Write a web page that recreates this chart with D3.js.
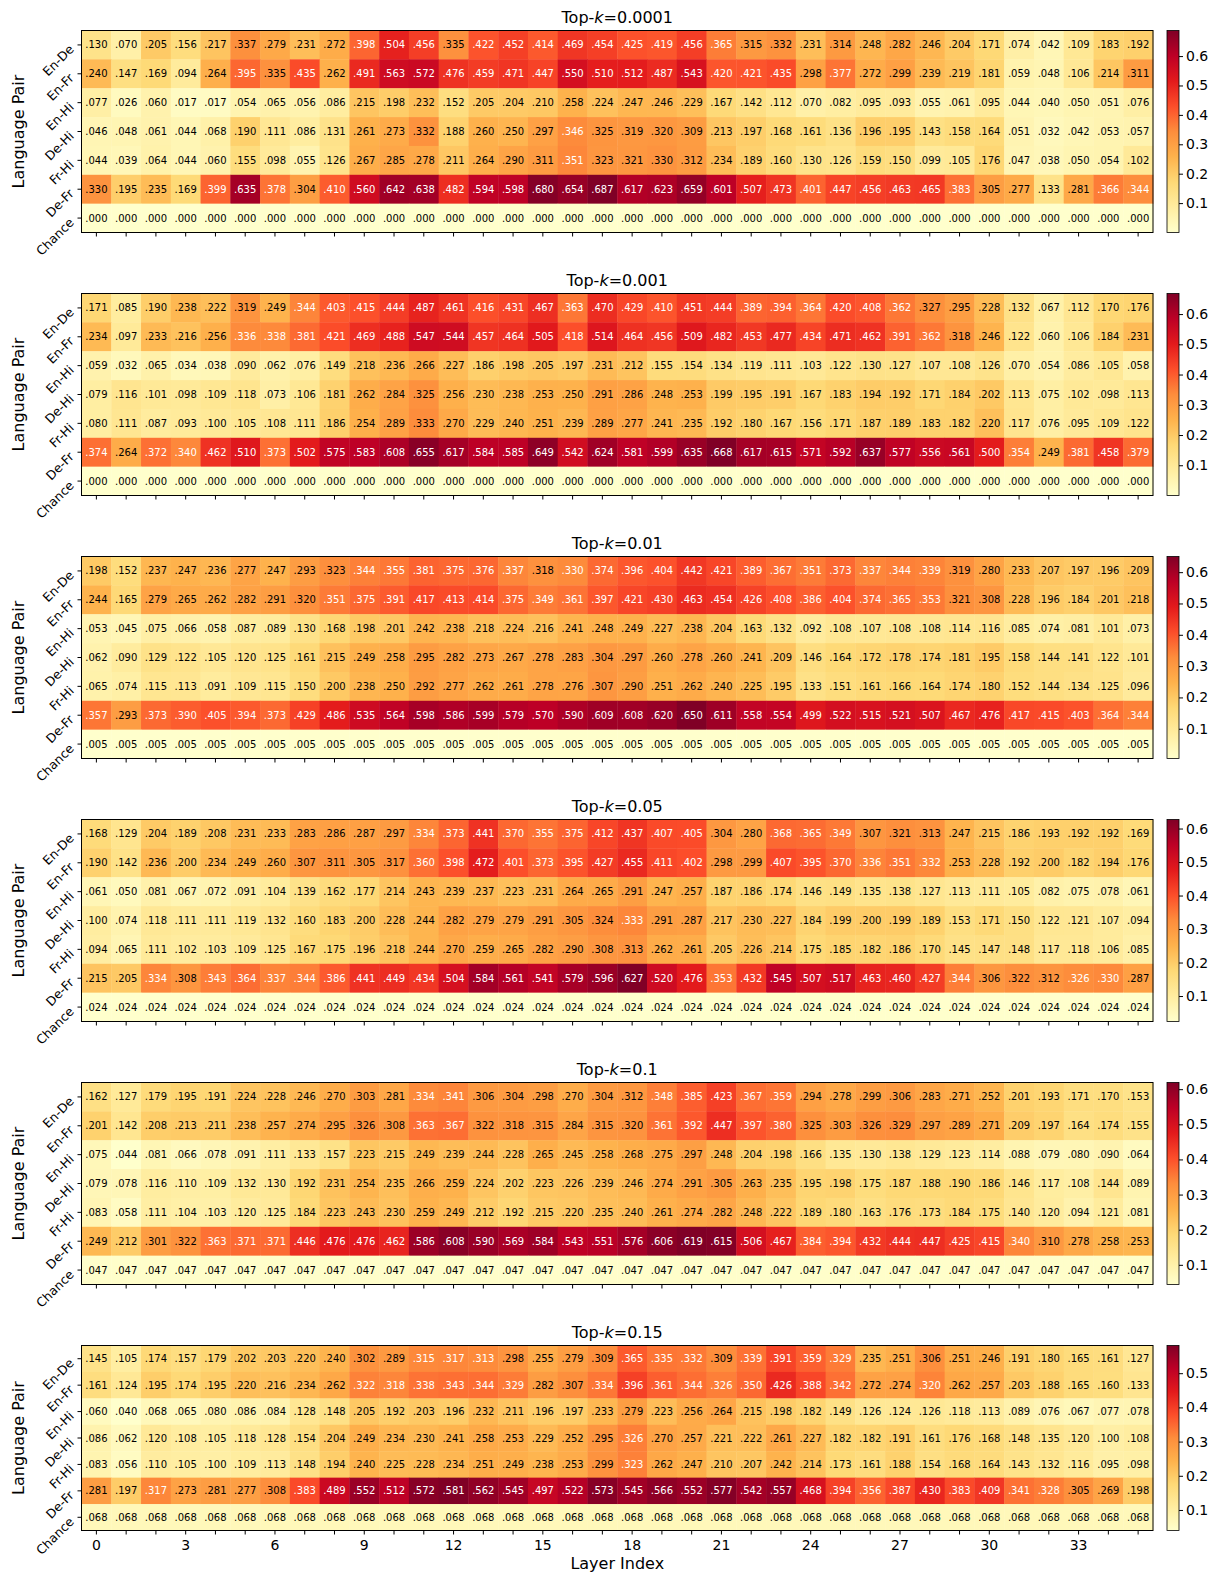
<!DOCTYPE html>
<html><head><meta charset="utf-8">
<script src="https://cdn.jsdelivr.net/npm/d3@7"></script>
<style>body{margin:0;background:#fff} svg{display:block} text{font-family:"DejaVu Sans",sans-serif}</style>
</head><body><svg id="chart" width="1217" height="1573"></svg>
<script>
// ---------- DATA ----------
const layers = [0,1,2,3,4,5,6,7,8,9,10,11,12,13,14,15,16,17,18,19,20,21,22,23,24,25,26,27,28,29,30,31,32,33,34,35];
const xTickLabels = [0,3,6,9,12,15,18,21,24,27,30,33];
const languagePairs = ["En-De","En-Fr","En-Hi","De-Hi","Fr-Hi","De-Fr","Chance"];
const topKValues = ["0.0001","0.001","0.01","0.05","0.1","0.15"];
const colorbarTicks = [0.1,0.2,0.3,0.4,0.5,0.6];

const valsK00001 = [
[0.130,0.070,0.205,0.156,0.217,0.337,0.279,0.231,0.272,0.398,0.504,0.456,0.335,0.422,0.452,0.414,0.469,0.454,0.425,0.419,0.456,0.365,0.315,0.332,0.231,0.314,0.248,0.282,0.246,0.204,0.171,0.074,0.042,0.109,0.183,0.192],
[0.240,0.147,0.169,0.094,0.264,0.395,0.335,0.435,0.262,0.491,0.563,0.572,0.476,0.459,0.471,0.447,0.550,0.510,0.512,0.487,0.543,0.420,0.421,0.435,0.298,0.377,0.272,0.299,0.239,0.219,0.181,0.059,0.048,0.106,0.214,0.311],
[0.077,0.026,0.060,0.017,0.017,0.054,0.065,0.056,0.086,0.215,0.198,0.232,0.152,0.205,0.204,0.210,0.258,0.224,0.247,0.246,0.229,0.167,0.142,0.112,0.070,0.082,0.095,0.093,0.055,0.061,0.095,0.044,0.040,0.050,0.051,0.076],
[0.046,0.048,0.061,0.044,0.068,0.190,0.111,0.086,0.131,0.261,0.273,0.332,0.188,0.260,0.250,0.297,0.346,0.325,0.319,0.320,0.309,0.213,0.197,0.168,0.161,0.136,0.196,0.195,0.143,0.158,0.164,0.051,0.032,0.042,0.053,0.057],
[0.044,0.039,0.064,0.044,0.060,0.155,0.098,0.055,0.126,0.267,0.285,0.278,0.211,0.264,0.290,0.311,0.351,0.323,0.321,0.330,0.312,0.234,0.189,0.160,0.130,0.126,0.159,0.150,0.099,0.105,0.176,0.047,0.038,0.050,0.054,0.102],
[0.330,0.195,0.235,0.169,0.399,0.635,0.378,0.304,0.410,0.560,0.642,0.638,0.482,0.594,0.598,0.680,0.654,0.687,0.617,0.623,0.659,0.601,0.507,0.473,0.401,0.447,0.456,0.463,0.465,0.383,0.305,0.277,0.133,0.281,0.366,0.344],
[0.000,0.000,0.000,0.000,0.000,0.000,0.000,0.000,0.000,0.000,0.000,0.000,0.000,0.000,0.000,0.000,0.000,0.000,0.000,0.000,0.000,0.000,0.000,0.000,0.000,0.000,0.000,0.000,0.000,0.000,0.000,0.000,0.000,0.000,0.000,0.000]
];
const valsK0001 = [
[0.171,0.085,0.190,0.238,0.222,0.319,0.249,0.344,0.403,0.415,0.444,0.487,0.461,0.416,0.431,0.467,0.363,0.470,0.429,0.410,0.451,0.444,0.389,0.394,0.364,0.420,0.408,0.362,0.327,0.295,0.228,0.132,0.067,0.112,0.170,0.176],
[0.234,0.097,0.233,0.216,0.256,0.336,0.338,0.381,0.421,0.469,0.488,0.547,0.544,0.457,0.464,0.505,0.418,0.514,0.464,0.456,0.509,0.482,0.453,0.477,0.434,0.471,0.462,0.391,0.362,0.318,0.246,0.122,0.060,0.106,0.184,0.231],
[0.059,0.032,0.065,0.034,0.038,0.090,0.062,0.076,0.149,0.218,0.236,0.266,0.227,0.186,0.198,0.205,0.197,0.231,0.212,0.155,0.154,0.134,0.119,0.111,0.103,0.122,0.130,0.127,0.107,0.108,0.126,0.070,0.054,0.086,0.105,0.058],
[0.079,0.116,0.101,0.098,0.109,0.118,0.073,0.106,0.181,0.262,0.284,0.325,0.256,0.230,0.238,0.253,0.250,0.291,0.286,0.248,0.253,0.199,0.195,0.191,0.167,0.183,0.194,0.192,0.171,0.184,0.202,0.113,0.075,0.102,0.098,0.113],
[0.080,0.111,0.087,0.093,0.100,0.105,0.108,0.111,0.186,0.254,0.289,0.333,0.270,0.229,0.240,0.251,0.239,0.289,0.277,0.241,0.235,0.192,0.180,0.167,0.156,0.171,0.187,0.189,0.183,0.182,0.220,0.117,0.076,0.095,0.109,0.122],
[0.374,0.264,0.372,0.340,0.462,0.510,0.373,0.502,0.575,0.583,0.608,0.655,0.617,0.584,0.585,0.649,0.542,0.624,0.581,0.599,0.635,0.668,0.617,0.615,0.571,0.592,0.637,0.577,0.556,0.561,0.500,0.354,0.249,0.381,0.458,0.379],
[0.000,0.000,0.000,0.000,0.000,0.000,0.000,0.000,0.000,0.000,0.000,0.000,0.000,0.000,0.000,0.000,0.000,0.000,0.000,0.000,0.000,0.000,0.000,0.000,0.000,0.000,0.000,0.000,0.000,0.000,0.000,0.000,0.000,0.000,0.000,0.000]
];
const valsK001 = [
[0.198,0.152,0.237,0.247,0.236,0.277,0.247,0.293,0.323,0.344,0.355,0.381,0.375,0.376,0.337,0.318,0.330,0.374,0.396,0.404,0.442,0.421,0.389,0.367,0.351,0.373,0.337,0.344,0.339,0.319,0.280,0.233,0.207,0.197,0.196,0.209],
[0.244,0.165,0.279,0.265,0.262,0.282,0.291,0.320,0.351,0.375,0.391,0.417,0.413,0.414,0.375,0.349,0.361,0.397,0.421,0.430,0.463,0.454,0.426,0.408,0.386,0.404,0.374,0.365,0.353,0.321,0.308,0.228,0.196,0.184,0.201,0.218],
[0.053,0.045,0.075,0.066,0.058,0.087,0.089,0.130,0.168,0.198,0.201,0.242,0.238,0.218,0.224,0.216,0.241,0.248,0.249,0.227,0.238,0.204,0.163,0.132,0.092,0.108,0.107,0.108,0.108,0.114,0.116,0.085,0.074,0.081,0.101,0.073],
[0.062,0.090,0.129,0.122,0.105,0.120,0.125,0.161,0.215,0.249,0.258,0.295,0.282,0.273,0.267,0.278,0.283,0.304,0.297,0.260,0.278,0.260,0.241,0.209,0.146,0.164,0.172,0.178,0.174,0.181,0.195,0.158,0.144,0.141,0.122,0.101],
[0.065,0.074,0.115,0.113,0.091,0.109,0.115,0.150,0.200,0.238,0.250,0.292,0.277,0.262,0.261,0.278,0.276,0.307,0.290,0.251,0.262,0.240,0.225,0.195,0.133,0.151,0.161,0.166,0.164,0.174,0.180,0.152,0.144,0.134,0.125,0.096],
[0.357,0.293,0.373,0.390,0.405,0.394,0.373,0.429,0.486,0.535,0.564,0.598,0.586,0.599,0.579,0.570,0.590,0.609,0.608,0.620,0.650,0.611,0.558,0.554,0.499,0.522,0.515,0.521,0.507,0.467,0.476,0.417,0.415,0.403,0.364,0.344],
[0.005,0.005,0.005,0.005,0.005,0.005,0.005,0.005,0.005,0.005,0.005,0.005,0.005,0.005,0.005,0.005,0.005,0.005,0.005,0.005,0.005,0.005,0.005,0.005,0.005,0.005,0.005,0.005,0.005,0.005,0.005,0.005,0.005,0.005,0.005,0.005]
];
const valsK005 = [
[0.168,0.129,0.204,0.189,0.208,0.231,0.233,0.283,0.286,0.287,0.297,0.334,0.373,0.441,0.370,0.355,0.375,0.412,0.437,0.407,0.405,0.304,0.280,0.368,0.365,0.349,0.307,0.321,0.313,0.247,0.215,0.186,0.193,0.192,0.192,0.169],
[0.190,0.142,0.236,0.200,0.234,0.249,0.260,0.307,0.311,0.305,0.317,0.360,0.398,0.472,0.401,0.373,0.395,0.427,0.455,0.411,0.402,0.298,0.299,0.407,0.395,0.370,0.336,0.351,0.332,0.253,0.228,0.192,0.200,0.182,0.194,0.176],
[0.061,0.050,0.081,0.067,0.072,0.091,0.104,0.139,0.162,0.177,0.214,0.243,0.239,0.237,0.223,0.231,0.264,0.265,0.291,0.247,0.257,0.187,0.186,0.174,0.146,0.149,0.135,0.138,0.127,0.113,0.111,0.105,0.082,0.075,0.078,0.061],
[0.100,0.074,0.118,0.111,0.111,0.119,0.132,0.160,0.183,0.200,0.228,0.244,0.282,0.279,0.279,0.291,0.305,0.324,0.333,0.291,0.287,0.217,0.230,0.227,0.184,0.199,0.200,0.199,0.189,0.153,0.171,0.150,0.122,0.121,0.107,0.094],
[0.094,0.065,0.111,0.102,0.103,0.109,0.125,0.167,0.175,0.196,0.218,0.244,0.270,0.259,0.265,0.282,0.290,0.308,0.313,0.262,0.261,0.205,0.226,0.214,0.175,0.185,0.182,0.186,0.170,0.145,0.147,0.148,0.117,0.118,0.106,0.085],
[0.215,0.205,0.334,0.308,0.343,0.364,0.337,0.344,0.386,0.441,0.449,0.434,0.504,0.584,0.561,0.541,0.579,0.596,0.627,0.520,0.476,0.353,0.432,0.545,0.507,0.517,0.463,0.460,0.427,0.344,0.306,0.322,0.312,0.326,0.330,0.287],
[0.024,0.024,0.024,0.024,0.024,0.024,0.024,0.024,0.024,0.024,0.024,0.024,0.024,0.024,0.024,0.024,0.024,0.024,0.024,0.024,0.024,0.024,0.024,0.024,0.024,0.024,0.024,0.024,0.024,0.024,0.024,0.024,0.024,0.024,0.024,0.024]
];
const valsK01 = [
[0.162,0.127,0.179,0.195,0.191,0.224,0.228,0.246,0.270,0.303,0.281,0.334,0.341,0.306,0.304,0.298,0.270,0.304,0.312,0.348,0.385,0.423,0.367,0.359,0.294,0.278,0.299,0.306,0.283,0.271,0.252,0.201,0.193,0.171,0.170,0.153],
[0.201,0.142,0.208,0.213,0.211,0.238,0.257,0.274,0.295,0.326,0.308,0.363,0.367,0.322,0.318,0.315,0.284,0.315,0.320,0.361,0.392,0.447,0.397,0.380,0.325,0.303,0.326,0.329,0.297,0.289,0.271,0.209,0.197,0.164,0.174,0.155],
[0.075,0.044,0.081,0.066,0.078,0.091,0.111,0.133,0.157,0.223,0.215,0.249,0.239,0.244,0.228,0.265,0.245,0.258,0.268,0.275,0.297,0.248,0.204,0.198,0.166,0.135,0.130,0.138,0.129,0.123,0.114,0.088,0.079,0.080,0.090,0.064],
[0.079,0.078,0.116,0.110,0.109,0.132,0.130,0.192,0.231,0.254,0.235,0.266,0.259,0.224,0.202,0.223,0.226,0.239,0.246,0.274,0.291,0.305,0.263,0.235,0.195,0.198,0.175,0.187,0.188,0.190,0.186,0.146,0.117,0.108,0.144,0.089],
[0.083,0.058,0.111,0.104,0.103,0.120,0.125,0.184,0.223,0.243,0.230,0.259,0.249,0.212,0.192,0.215,0.220,0.235,0.240,0.261,0.274,0.282,0.248,0.222,0.189,0.180,0.163,0.176,0.173,0.184,0.175,0.140,0.120,0.094,0.121,0.081],
[0.249,0.212,0.301,0.322,0.363,0.371,0.371,0.446,0.476,0.476,0.462,0.586,0.608,0.590,0.569,0.584,0.543,0.551,0.576,0.606,0.619,0.615,0.506,0.467,0.384,0.394,0.432,0.444,0.447,0.425,0.415,0.340,0.310,0.278,0.258,0.253],
[0.047,0.047,0.047,0.047,0.047,0.047,0.047,0.047,0.047,0.047,0.047,0.047,0.047,0.047,0.047,0.047,0.047,0.047,0.047,0.047,0.047,0.047,0.047,0.047,0.047,0.047,0.047,0.047,0.047,0.047,0.047,0.047,0.047,0.047,0.047,0.047]
];
const valsK015 = [
[0.145,0.105,0.174,0.157,0.179,0.202,0.203,0.220,0.240,0.302,0.289,0.315,0.317,0.313,0.298,0.255,0.279,0.309,0.365,0.335,0.332,0.309,0.339,0.391,0.359,0.329,0.235,0.251,0.306,0.251,0.246,0.191,0.180,0.165,0.161,0.127],
[0.161,0.124,0.195,0.174,0.195,0.220,0.216,0.234,0.262,0.322,0.318,0.338,0.343,0.344,0.329,0.282,0.307,0.334,0.396,0.361,0.344,0.326,0.350,0.426,0.388,0.342,0.272,0.274,0.320,0.262,0.257,0.203,0.188,0.165,0.160,0.133],
[0.060,0.040,0.068,0.065,0.080,0.086,0.084,0.128,0.148,0.205,0.192,0.203,0.196,0.232,0.211,0.196,0.197,0.233,0.279,0.223,0.256,0.264,0.215,0.198,0.182,0.149,0.126,0.124,0.126,0.118,0.113,0.089,0.076,0.067,0.077,0.078],
[0.086,0.062,0.120,0.108,0.105,0.118,0.128,0.154,0.204,0.249,0.234,0.230,0.241,0.258,0.253,0.229,0.252,0.295,0.326,0.270,0.257,0.221,0.222,0.261,0.227,0.182,0.182,0.191,0.161,0.176,0.168,0.148,0.135,0.120,0.100,0.108],
[0.083,0.056,0.110,0.105,0.100,0.109,0.113,0.148,0.194,0.240,0.225,0.228,0.234,0.251,0.249,0.238,0.253,0.299,0.323,0.262,0.247,0.210,0.207,0.242,0.214,0.173,0.161,0.188,0.154,0.168,0.164,0.143,0.132,0.116,0.095,0.098],
[0.281,0.197,0.317,0.273,0.281,0.277,0.308,0.383,0.489,0.552,0.512,0.572,0.581,0.562,0.545,0.497,0.522,0.573,0.545,0.566,0.552,0.577,0.542,0.557,0.468,0.394,0.356,0.387,0.430,0.383,0.409,0.341,0.328,0.305,0.269,0.198],
[0.068,0.068,0.068,0.068,0.068,0.068,0.068,0.068,0.068,0.068,0.068,0.068,0.068,0.068,0.068,0.068,0.068,0.068,0.068,0.068,0.068,0.068,0.068,0.068,0.068,0.068,0.068,0.068,0.068,0.068,0.068,0.068,0.068,0.068,0.068,0.068]
];
const panelValues = [valsK00001, valsK0001, valsK001, valsK005, valsK01, valsK015];

// ---------- CHART ----------
const ylOrRd = ["#ffffcc","#ffeda0","#fed976","#feb24c","#fd8d3c","#fc4e2a","#e31a1c","#bd0026","#800026"];
const svg = d3.select("#chart");
const plotL = 81.5, plotR = 1153, cbX = 1167, cbW = 12;
const fmt = v => d3.format(".3f")(v).replace(/^0/, "");
const defs = svg.append("defs");
const grad = defs.append("linearGradient").attr("id","cbgrad").attr("x1",0).attr("y1",1).attr("x2",0).attr("y2",0);
ylOrRd.forEach((c,i)=>grad.append("stop").attr("offset", i/8).attr("stop-color", c));

panelValues.forEach((vals, pi) => {
  const top = 30.5 + pi*263;
  const h = pi === 5 ? 185 : 202;
  const g = svg.append("g");
  const x = d3.scaleBand().domain(layers).range([plotL, plotR]);
  const y = d3.scaleBand().domain(languagePairs).range([top, top+h]);
  const [vmin, vmax] = d3.extent(vals.flat());
  const color = d3.scaleLinear()
    .domain(ylOrRd.map((_,i)=> vmin + (vmax-vmin)*i/8))
    .range(ylOrRd).interpolate(d3.interpolateRgb).clamp(true);
  const thr = (vmin + vmax) / 2;

  const cells = [];
  vals.forEach((row, ri) => row.forEach((v, ci) => cells.push({pair: languagePairs[ri], layer: layers[ci], v})));

  g.selectAll("rect.cell").data(cells).join("rect")
    .attr("class","cell")
    .attr("x", d => x(d.layer)).attr("y", d => y(d.pair))
    .attr("width", x.bandwidth()+0.4).attr("height", y.bandwidth()+0.4)
    .attr("fill", d => color(d.v));
  g.selectAll("text.val").data(cells).join("text")
    .attr("class","val")
    .attr("x", d => x(d.layer) + x.bandwidth()/2)
    .attr("y", d => y(d.pair) + y.bandwidth()/2)
    .attr("text-anchor","middle").attr("dominant-baseline","central")
    .attr("font-size", 10)
    .attr("fill", d => d.v > thr ? "#ffffff" : "#000000")
    .text(d => fmt(d.v));

  g.append("rect").attr("x", plotL).attr("y", top).attr("width", plotR-plotL).attr("height", h)
    .attr("fill","none").attr("stroke","#000").attr("stroke-width",1);

  // y axis
  const ya = g.append("g").attr("transform", `translate(${plotL},0)`)
    .call(d3.axisLeft(y).tickSize(4).tickPadding(4));
  ya.select(".domain").remove();
  ya.selectAll("text").attr("font-size", 12.5).attr("font-family","DejaVu Sans")
    .attr("x", null).attr("dy", null)
    .attr("text-anchor","end").attr("dominant-baseline","central")
    .attr("transform","translate(-10,2) rotate(-45)");

  // x axis
  const xa = g.append("g").attr("transform", `translate(0,${top+h})`)
    .call(d3.axisBottom(x).tickSize(4).tickPadding(6)
      .tickFormat(d => (pi === 5 && xTickLabels.includes(d)) ? d : ""));
  xa.select(".domain").remove();
  xa.selectAll("text").attr("font-size", 14).attr("font-family","DejaVu Sans");

  // title
  const t = g.append("text").attr("x", (plotL+plotR)/2).attr("y", top - 8)
    .attr("text-anchor","middle").attr("font-size", 16);
  t.append("tspan").text("Top-");
  t.append("tspan").attr("font-style","italic").text("k");
  t.append("tspan").text("=" + topKValues[pi]);

  // y label
  g.append("text").attr("transform", `translate(24,${top+h/2}) rotate(-90)`)
    .attr("text-anchor","middle").attr("font-size",16).text("Language Pair");

  // colorbar
  g.append("rect").attr("x", cbX).attr("y", top).attr("width", cbW).attr("height", h)
    .attr("fill","url(#cbgrad)").attr("stroke","#000").attr("stroke-width",0.8);
  const cy = d3.scaleLinear().domain([vmin, vmax]).range([top+h, top]);
  const ca = g.append("g").attr("transform", `translate(${cbX+cbW},0)`)
    .call(d3.axisRight(cy).tickValues(colorbarTicks.filter(tv => tv >= vmin && tv <= vmax))
      .tickSize(4).tickPadding(3).tickFormat(d3.format(".1f")));
  ca.select(".domain").remove();
  ca.selectAll("text").attr("font-size", 14).attr("font-family","DejaVu Sans");
});

svg.append("text").attr("x", (plotL+plotR)/2).attr("y", 1569)
  .attr("text-anchor","middle").attr("font-size",16).text("Layer Index");
</script>
</body></html>
